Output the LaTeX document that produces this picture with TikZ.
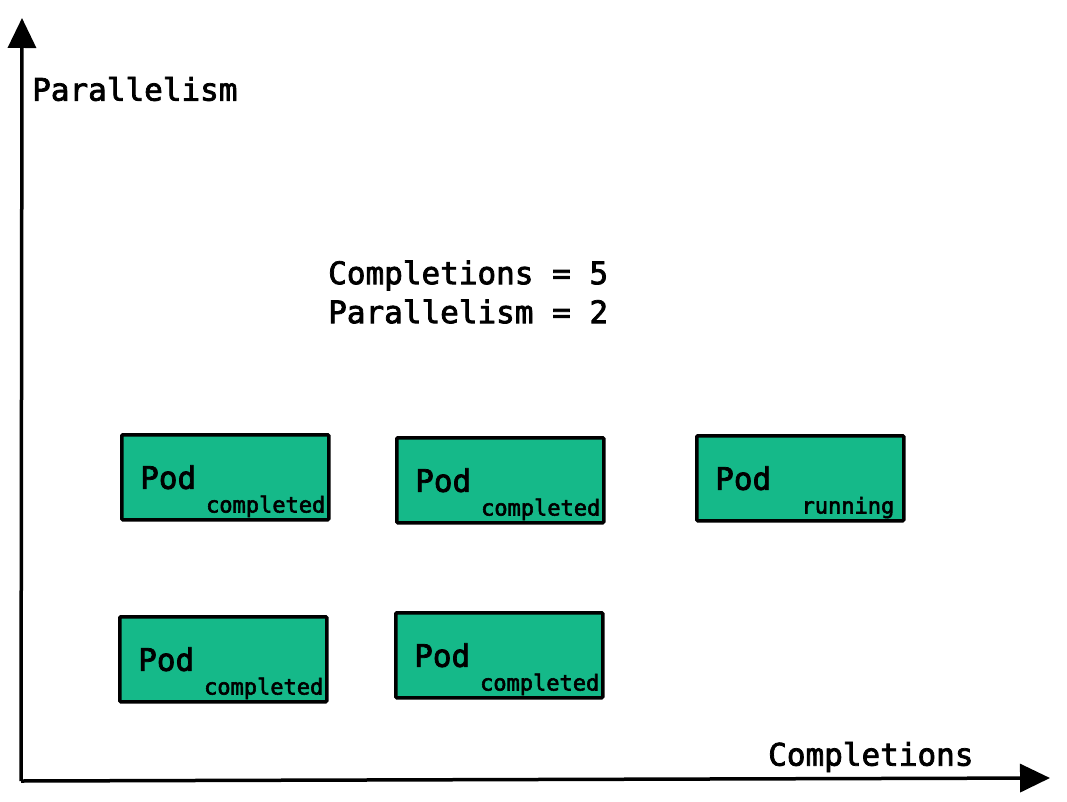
\documentclass[tikz,border=0pt]{standalone}
\usepackage{fontspec}
\setmonofont[FakeBold=2.5]{DejaVu Sans Mono}
\usetikzlibrary{positioning, arrows.meta}

\definecolor{podgreen}{RGB}{21,185,137}

\begin{document}
\begin{tikzpicture}[
        x=1pt, y=-1pt,
        pod/.style={rectangle, draw=black, line width=3.5pt, fill=podgreen, rounded corners=1pt, minimum width=207pt, minimum height=85pt, anchor=north west},
        podname/.style={font=\ttfamily\fontsize{31}{37}\selectfont, inner sep=0pt, anchor=west},
        podstate/.style={font=\ttfamily\fontsize{22}{26}\selectfont, inner sep=0pt, anchor=base east},
        axislabel/.style={font=\ttfamily\fontsize{31}{39}\selectfont, inner sep=0pt, anchor=west, align=left},
        axis/.style={-{Triangle[length=30pt, width=28pt]}, line width=3.5pt}
    ]
        \useasboundingbox (0,0) rectangle (1067,802);

        % axes
        \coordinate (origin) at (21,781);
        \coordinate (ytip) at (22,18);
        \coordinate (xtip) at (1050,778);
        \draw[axis] (origin) -- (ytip);
        \draw[axis] (origin) -- (xtip);
        \node[axislabel] (ylabel) at (32,89) {Parallelism};
        \node[axislabel] (xlabel) at (768,757) {Completions};

        \node[axislabel] (settings) at (328,292) {Completions = 5\\Parallelism = 2};

        % first row
        \node[pod] (pod1) at (120,433) {};
        \node[pod] (pod2) at (395,436) {};
        \node[pod] (pod3) at (695,434) {};
        % second row
        \node[pod] (pod4) at (118,615) {};
        \node[pod] (pod5) at (394,611) {};

        \foreach \p in {1,...,5} {
            \node[podname] (name\p) at ([xshift=20pt]pod\p.west) {Pod};
        }
        \node[podstate] (state1) at ([xshift=-5pt, yshift=9pt]pod1.south east) {completed};
        \node[podstate] (state2) at ([xshift=-5pt, yshift=9pt]pod2.south east) {completed};
        \node[podstate] (state3) at ([xshift=-11pt, yshift=9pt]pod3.south east) {running};
        \node[podstate] (state4) at ([xshift=-5pt, yshift=9pt]pod4.south east) {completed};
        \node[podstate] (state5) at ([xshift=-5pt, yshift=9pt]pod5.south east) {completed};
    \end{tikzpicture}
\end{document}
